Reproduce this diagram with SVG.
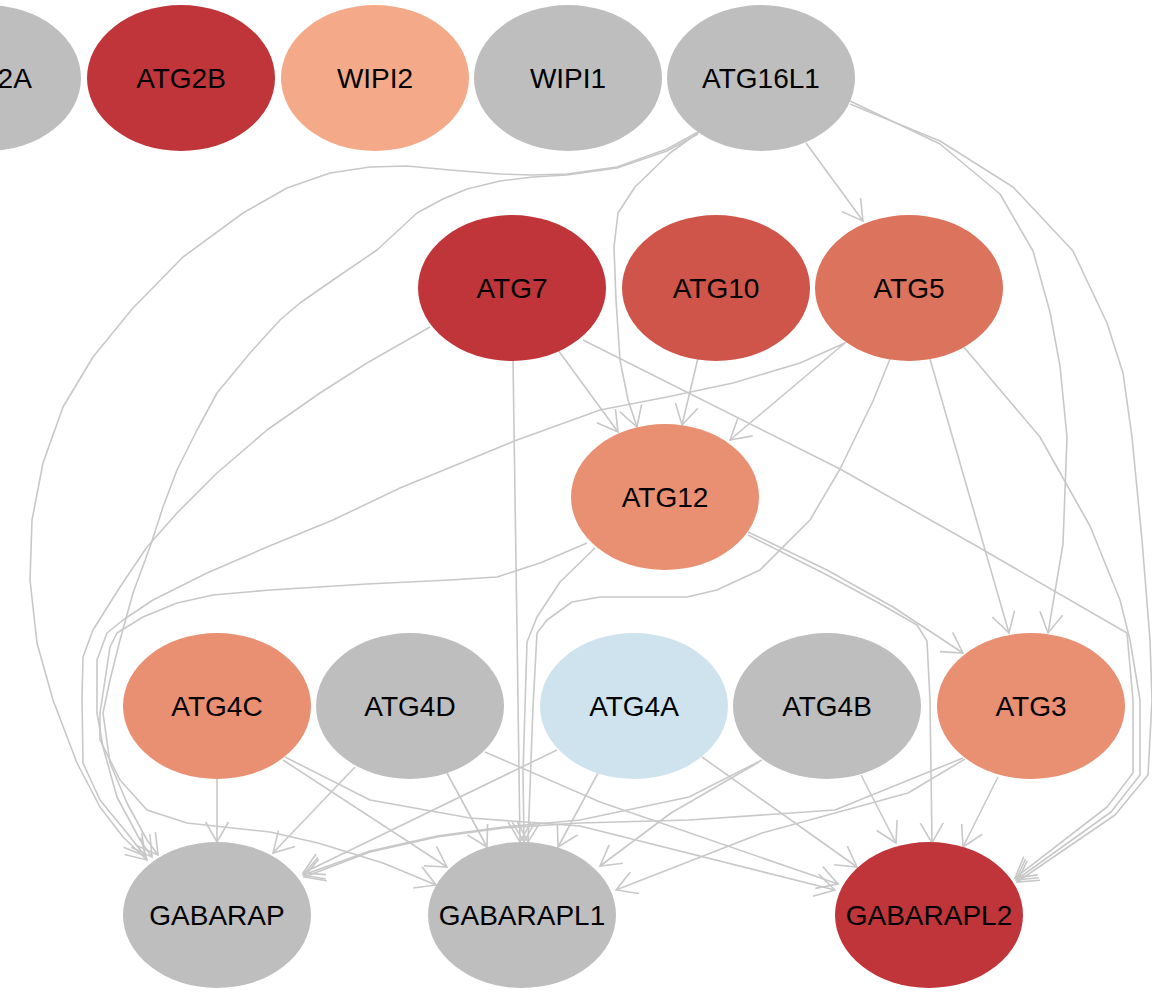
<svg xmlns="http://www.w3.org/2000/svg" width="1152" height="999" viewBox="0 0 1152 999">
<style>
.e{fill:none;stroke:#C8C8C8;stroke-width:1.6;stroke-linejoin:round;marker-end:url(#ah)}
.n{stroke:none}
.t{font-family:"Liberation Sans",Arial,Helvetica,sans-serif;font-size:28px;fill:#000;text-anchor:middle}
.g{fill:#BEBEBE}.r{fill:#C0353A}.w2{fill:#F4AA88}.a10{fill:#CF5449}.a5{fill:#DC735C}.o{fill:#E98F72}.b{fill:#CFE3EF}
</style>
<defs>
<marker id="ah" viewBox="-24 -14 26 28" refX="0" refY="0" markerWidth="26" markerHeight="28" markerUnits="userSpaceOnUse" orient="auto" overflow="visible">
<path d="M-20,-11.5 L0,0 L-20,11.5" fill="none" stroke="#C8C8C8" stroke-width="1.6"/>
</marker>
</defs>
<rect width="1152" height="999" fill="#FFFFFF"/>
<g id="edges">
<path class="e" d="M806,143 L863,221"/>
<path class="e" d="M699,132 L670,153 L635,187 L618,213 L614,247 L616,300 L620,360 L628,400 L637,427"/>
<path class="e" d="M850,101 L940,144 L1000,194 L1033,251 L1050,312 L1060,366 L1067,437 L1063,544 L1048,633"/>
<path class="e" d="M850,104 L940,141 L1013,187 L1073,251 L1107,323 L1123,373 L1132,437 L1142,540 L1150,640 L1152,700 L1148,775 L1115,815 L1017,882"/>
<path class="e" d="M698,132 L667,149 L617,167 L567,174 L533,175 L500,174 L450,170 L407,166 L370,167 L330,173 L287,188 L243,213 L183,257 L133,308 L93,357 L63,407 L43,463 L32,520 L30,580 L37,643 L53,700 L77,763 L100,807 L123,837 L147,860"/>
<path class="e" d="M698,134 L667,151 L617,168 L567,175 L533,177 L500,181 L467,189 L443,199 L417,213 L377,250 L333,280 L300,303 L280,320 L250,353 L217,393 L197,430 L177,470 L163,507 L150,547 L133,593 L120,640 L110,680 L103,713 L110,763 L127,803 L147,840 L158,855"/>
<path class="e" d="M430,327 L367,363 L320,393 L267,430 L217,473 L177,513 L147,547 L120,587 L93,630 L83,657 L82,697 L83,763 L100,800 L127,833 L145,856"/>
<path class="e" d="M845,343 L800,363 L733,383 L667,397 L600,410 L517,440 L400,488 L333,520 L267,547 L207,573 L153,600 L123,620 L107,633 L97,660 L97,713 L103,747 L117,797 L140,840 L152,857"/>
<path class="e" d="M587,543 L540,563 L497,577 L450,580 L367,584 L270,590 L213,595 L177,603 L143,617 L117,633 L110,647 L100,713 L100,740 L120,780 L147,810 L187,823 L270,832 L318,843 L383,863 L436,885"/>
<path class="e" d="M558,350 L618,432"/>
<path class="e" d="M698,358 L682,425"/>
<path class="e" d="M846,342 L730,440"/>
<path class="e" d="M930,359 L1009,633"/>
<path class="e" d="M890,359 L873,401 L840,469 L810,520 L760,570 L717,590 L687,597 L600,597 L572,602 L547,620 L537,633 L533,707 L528,842"/>
<path class="e" d="M513,360 L517,630 L520,842"/>
<path class="e" d="M595,548 L560,582 L537,617 L527,642 L523,773 L524,842"/>
<path class="e" d="M748,532 L827,570 L893,607 L963,653"/>
<path class="e" d="M748,535 L827,575 L877,602 L917,625 L927,641 L930,700 L932,843"/>
<path class="e" d="M583,340 L840,469 L973,544 L1127,633 L1133,700 L1133,773 L1107,807 L1015,878"/>
<path class="e" d="M963,346 L1040,437 L1090,526 L1120,600 L1130,640 L1140,700 L1140,775 L1111,812 L1016,880"/>
<path class="e" d="M217,779 L217,842"/>
<path class="e" d="M283,760 L447,867"/>
<path class="e" d="M285,757 L370,800 L470,818 L580,826 L835,890"/>
<path class="e" d="M355,767 L273,853"/>
<path class="e" d="M447,773 L487,847"/>
<path class="e" d="M485,752 L600,802 L838,884"/>
<path class="e" d="M557,750 L303,873"/>
<path class="e" d="M598,773 L558,847"/>
<path class="e" d="M702,757 L857,867"/>
<path class="e" d="M762,760 L689,797 L580,820 L503,827 L437,836 L370,851 L303,875"/>
<path class="e" d="M759,762 L671,813 L600,866"/>
<path class="e" d="M861,775 L896,843"/>
<path class="e" d="M963,758 L835,810 L689,820 L580,823 L503,828 L437,837 L370,852 L304,877"/>
<path class="e" d="M965,759 L908,793 L762,833 L616,890"/>
<path class="e" d="M998,777 L963,847"/>
</g>
<g id="ATG2A"><ellipse class="n g" cx="-13" cy="78" rx="94" ry="73"/><text class="t" x="-13" y="88">ATG2A</text></g>
<g id="ATG2B"><ellipse class="n r" cx="181" cy="78" rx="94" ry="73"/><text class="t" x="181" y="88">ATG2B</text></g>
<g id="WIPI2"><ellipse class="n w2" cx="375" cy="78" rx="94" ry="73"/><text class="t" x="375" y="88">WIPI2</text></g>
<g id="WIPI1"><ellipse class="n g" cx="568" cy="78" rx="94" ry="73"/><text class="t" x="568" y="88">WIPI1</text></g>
<g id="ATG16L1"><ellipse class="n g" cx="761" cy="78" rx="94" ry="73"/><text class="t" x="761" y="88">ATG16L1</text></g>
<g id="ATG7"><ellipse class="n r" cx="512" cy="288" rx="94" ry="73"/><text class="t" x="512" y="298">ATG7</text></g>
<g id="ATG10"><ellipse class="n a10" cx="716" cy="288" rx="94" ry="73"/><text class="t" x="716" y="298">ATG10</text></g>
<g id="ATG5"><ellipse class="n a5" cx="909" cy="288" rx="94" ry="73"/><text class="t" x="909" y="298">ATG5</text></g>
<g id="ATG12"><ellipse class="n o" cx="665" cy="497" rx="94" ry="73"/><text class="t" x="665" y="507">ATG12</text></g>
<g id="ATG4C"><ellipse class="n o" cx="217" cy="706" rx="94" ry="73"/><text class="t" x="217" y="716">ATG4C</text></g>
<g id="ATG4D"><ellipse class="n g" cx="410" cy="706" rx="94" ry="73"/><text class="t" x="410" y="716">ATG4D</text></g>
<g id="ATG4A"><ellipse class="n b" cx="634" cy="706" rx="94" ry="73"/><text class="t" x="634" y="716">ATG4A</text></g>
<g id="ATG4B"><ellipse class="n g" cx="827" cy="706" rx="94" ry="73"/><text class="t" x="827" y="716">ATG4B</text></g>
<g id="ATG3"><ellipse class="n o" cx="1031" cy="706" rx="94" ry="73"/><text class="t" x="1031" y="716">ATG3</text></g>
<g id="GABARAP"><ellipse class="n g" cx="217" cy="915" rx="94" ry="73"/><text class="t" x="217" y="925">GABARAP</text></g>
<g id="GABARAPL1"><ellipse class="n g" cx="522" cy="915" rx="94" ry="73"/><text class="t" x="522" y="925">GABARAPL1</text></g>
<g id="GABARAPL2"><ellipse class="n r" cx="929" cy="915" rx="94" ry="73"/><text class="t" x="929" y="925">GABARAPL2</text></g>
</svg>
